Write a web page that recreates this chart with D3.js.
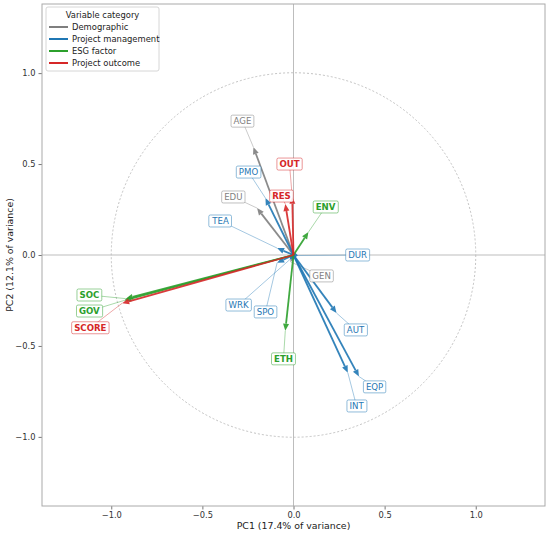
<!DOCTYPE html>
<html lang="en">
<head>
  <meta charset="UTF-8">
  <title>PCA loadings biplot</title>
  <script src="https://d3js.org/d3.v7.min.js"></script>
  <style>
    body {
      margin: 0;
      padding: 0;
      background: #fff;
      font-family: "DejaVu Sans", sans-serif;
    }
  </style>
</head>
<body>
  <div id="chart"></div>

  <script>
    // variable loadings on PC1 / PC2
    const variables = ["AGE", "EDU", "GEN", "PMO", "TEA", "DUR", "WRK", "SPO", "AUT", "EQP", "INT",
                       "ENV", "ETH", "SOC", "GOV", "SCORE", "RES", "OUT"];
    const category  = ["Demographic", "Demographic", "Demographic",
                       "Project management", "Project management", "Project management", "Project management",
                       "Project management", "Project management", "Project management", "Project management",
                       "ESG factor", "ESG factor", "ESG factor", "ESG factor",
                       "Project outcome", "Project outcome", "Project outcome"];
    const pc1 = [-0.22, -0.20, -0.016, -0.154, -0.09, 0.025, -0.02, -0.09, 0.236, 0.359, 0.298,
                 0.082, -0.045, -0.92, -0.93, -0.94, -0.045, -0.007];
    const pc2 = [0.593, 0.258, -0.038, 0.313, 0.038, -0.003, -0.025, -0.043, -0.319, -0.668, -0.647,
                 0.126, -0.416, -0.24, -0.25, -0.265, 0.28, 0.32];
    // where the text boxes sit, in loading units
    const labelPC1 = [-0.28, -0.33, 0.154, -0.247, -0.40, 0.352, -0.302, -0.154, 0.34, 0.445, 0.346,
                      0.176, -0.055, -1.12, -1.12, -1.115, -0.066, -0.022];
    const labelPC2 = [0.736, 0.319, -0.115, 0.456, 0.187, 0.0, -0.275, -0.313, -0.412, -0.725, -0.83,
                      0.264, -0.571, -0.22, -0.308, -0.40, 0.324, 0.50];

    const categories = ["Demographic", "Project management", "ESG factor", "Project outcome"];
    const ticks = [-1.0, -0.5, 0.0, 0.5, 1.0];

    const colors = {
      "Demographic": "#7f7f7f",
      "Project management": "#1f77b4",
      "ESG factor": "#2ca02c",
      "Project outcome": "#d62728"
    };
    const boldCats = ["ESG factor", "Project outcome"];

    const W = 550, H = 535;
    const plot = { left: 42, right: 545, top: 4, bottom: 506 };

    const svg = d3.select("#chart").append("svg")
      .attr("width", W)
      .attr("height", H);

    const x = d3.scaleLinear().domain([-1.38, 1.38]).range([plot.left, plot.right]);
    const y = d3.scaleLinear().domain([-1.38, 1.38]).range([plot.bottom, plot.top]);

    const data = variables.map((v, i) => ({
      name: v, cat: category[i], x: pc1[i], y: pc2[i], lx: labelPC1[i], ly: labelPC2[i]
    }));

    // unit circle
    svg.append("circle")
      .attr("cx", x(0)).attr("cy", y(0))
      .attr("r", x(1) - x(0))
      .attr("fill", "none")
      .attr("stroke", "#bbb")
      .attr("stroke-width", 0.9)
      .attr("stroke-dasharray", "2,2");

    // zero lines
    svg.append("line")
      .attr("x1", plot.left).attr("x2", plot.right)
      .attr("y1", y(0)).attr("y2", y(0))
      .attr("stroke", "#bdbdbd").attr("stroke-width", 1);
    svg.append("line")
      .attr("x1", x(0)).attr("x2", x(0))
      .attr("y1", plot.top).attr("y2", plot.bottom)
      .attr("stroke", "#bdbdbd").attr("stroke-width", 1);

    // axes
    const fmt = d => d3.format(".1f")(d).replace("-", "\u2212");
    const xAxis = svg.append("g")
      .attr("transform", `translate(0,${plot.bottom})`)
      .call(d3.axisBottom(x).tickValues(ticks).tickFormat(fmt).tickSize(3.5).tickPadding(3));
    const yAxis = svg.append("g")
      .attr("transform", `translate(${plot.left},0)`)
      .call(d3.axisLeft(y).tickValues(ticks).tickFormat(fmt).tickSize(3.5).tickPadding(3));
    [xAxis, yAxis].forEach(g => {
      g.select(".domain").remove();
      g.selectAll(".tick line").attr("stroke", "#777");
      g.selectAll(".tick text")
        .attr("fill", "#333")
        .style("font-family", "DejaVu Sans")
        .style("font-size", "8.3px");
    });

    // frame
    svg.append("rect")
      .attr("x", plot.left).attr("y", plot.top)
      .attr("width", plot.right - plot.left)
      .attr("height", plot.bottom - plot.top)
      .attr("fill", "none")
      .attr("stroke", "#aaa")
      .attr("stroke-width", 1);

    svg.append("text")
      .attr("x", (plot.left + plot.right) / 2)
      .attr("y", 529)
      .attr("text-anchor", "middle")
      .attr("fill", "#222")
      .style("font-size", "9.4px")
      .text("PC1 (17.4% of variance)");
    svg.append("text")
      .attr("transform", `translate(13,${(plot.top + plot.bottom) / 2}) rotate(-90)`)
      .attr("text-anchor", "middle")
      .attr("fill", "#222")
      .style("font-size", "9.4px")
      .text("PC2 (12.1% of variance)");

    // leader lines from label to arrow tip
    svg.append("g").selectAll("line")
      .data(data)
      .join("line")
      .attr("x1", d => x(d.lx)).attr("y1", d => y(d.ly))
      .attr("x2", d => x(d.x)).attr("y2", d => y(d.y))
      .attr("stroke", d => colors[d.cat])
      .attr("stroke-opacity", 0.45)
      .attr("stroke-width", 0.9);

    // arrows
    const headLen = 7, headW = 3;
    const arrows = svg.append("g").selectAll("g")
      .data(data)
      .join("g")
      .attr("opacity", 0.9);
    arrows.each(function (d) {
      const x0 = x(0), y0 = y(0), x1 = x(d.x), y1 = y(d.y);
      const len = Math.hypot(x1 - x0, y1 - y0);
      const ux = (x1 - x0) / len, uy = (y1 - y0) / len;
      const h = Math.min(headLen, len * 0.8);
      const bx = x1 - ux * h, by = y1 - uy * h;
      const g = d3.select(this);
      g.append("line")
        .attr("x1", x0).attr("y1", y0)
        .attr("x2", bx).attr("y2", by)
        .attr("stroke", colors[d.cat])
        .attr("stroke-width", 1.8);
      g.append("path")
        .attr("d", `M${x1},${y1}L${bx - uy * headW},${by + ux * headW}L${bx + uy * headW},${by - ux * headW}Z`)
        .attr("fill", colors[d.cat]);
    });

    // labels in boxes
    const labels = svg.append("g").selectAll("g")
      .data(data)
      .join("g")
      .attr("transform", d => `translate(${x(d.lx)},${y(d.ly)})`);
    labels.append("text")
      .attr("text-anchor", "middle")
      .attr("dy", "0.36em")
      .attr("fill", d => colors[d.cat])
      .style("font-size", "8.6px")
      .style("font-weight", d => boldCats.includes(d.cat) ? "bold" : "normal")
      .text(d => d.name);
    labels.each(function (d) {
      const g = d3.select(this);
      const bb = g.select("text").node().getBBox();
      g.insert("rect", "text")
        .attr("x", bb.x - 2.5).attr("y", -6)
        .attr("width", bb.width + 5).attr("height", 12)
        .attr("rx", 1.5)
        .attr("fill", "#fff")
        .attr("fill-opacity", 0.9)
        .attr("stroke", colors[d.cat])
        .attr("stroke-opacity", 0.55)
        .attr("stroke-width", 0.9);
    });

    // legend
    const legend = svg.append("g").attr("transform", "translate(46,7)");
    legend.append("rect")
      .attr("width", 113).attr("height", 64)
      .attr("rx", 2)
      .attr("fill", "#fff")
      .attr("fill-opacity", 0.9)
      .attr("stroke", "#ccc")
      .attr("stroke-width", 0.8);
    legend.append("text")
      .attr("x", 56.5).attr("y", 11)
      .attr("text-anchor", "middle")
      .attr("fill", "#222")
      .style("font-size", "8.4px")
      .text("Variable category");
    const items = legend.selectAll("g.item")
      .data(categories)
      .join("g")
      .attr("class", "item")
      .attr("transform", (d, i) => `translate(3,${20 + i * 12})`);
    items.append("line")
      .attr("x1", 0).attr("x2", 19)
      .attr("stroke", d => colors[d])
      .attr("stroke-width", 2);
    items.append("text")
      .attr("x", 23).attr("dy", "0.35em")
      .attr("fill", "#222")
      .style("font-size", "8.4px")
      .text(d => d);
  </script>
</body>
</html>
